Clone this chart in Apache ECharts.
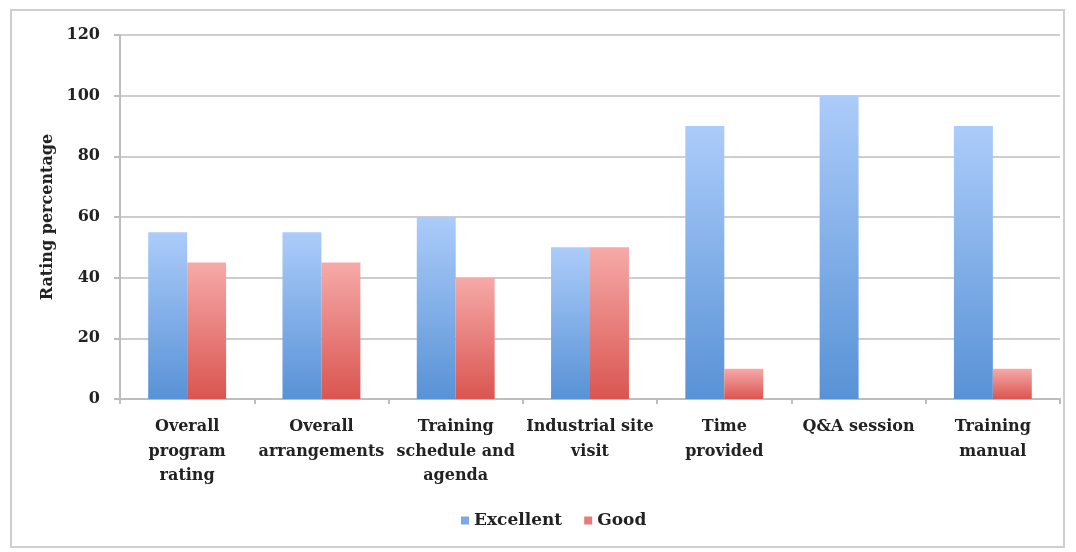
<!DOCTYPE html>
<html><head><meta charset="utf-8">
<script src="https://cdn.jsdelivr.net/npm/echarts@6/dist/echarts.min.js"></script>
<style>html,body{margin:0;padding:0;background:#fff}#c{width:1076px;height:552px}
#frame{position:absolute;left:10px;top:9px;width:1055px;height:539px;border:2px solid #cfcfcf;box-sizing:border-box;pointer-events:none}</style>
</head><body><div id="c"></div><div id="frame"></div>
<script>
const categories = ['Overall\nprogram\nrating','Overall\narrangements','Training\nschedule and\nagenda','Industrial site\nvisit','Time\nprovided','Q&A session','Training\nmanual'];
const excellent = [55,55,60,50,90,100,90];
const good = [45,45,40,50,10,0,10];
const yTicks = {min:0,max:120,interval:20};
const font = '"DejaVu Serif", serif';
const chart = echarts.init(document.getElementById('c'));
function grad(top,bottom){return new echarts.graphic.LinearGradient(0,0,0,1,[{offset:0,color:top},{offset:1,color:bottom}]);}
chart.setOption({
  animation:false,
  grid:{left:120,right:16,top:35,bottom:153},
  legend:{bottom:18,left:456,itemWidth:8,itemHeight:8,itemGap:22,icon:'rect',
    textStyle:{fontFamily:font,fontWeight:'bold',fontSize:17,color:'#222'},
    data:[{name:'Excellent',itemStyle:{color:'#7aaae6'}},{name:'Good',itemStyle:{color:'#e77b78'}}]},
  xAxis:{type:'category',data:categories,
    axisLine:{lineStyle:{color:'#bdbdbd',width:2}},
    axisTick:{show:true,length:5,lineStyle:{color:'#bdbdbd',width:2}},
    axisLabel:{fontFamily:font,fontWeight:'bold',fontSize:16,color:'#222',lineHeight:24.5,margin:16,interval:0}},
  yAxis:{type:'value',min:yTicks.min,max:yTicks.max,interval:yTicks.interval,
    name:'Rating percentage',nameLocation:'middle',nameGap:55,nameRotate:90,
    nameTextStyle:{fontFamily:font,fontWeight:'bold',fontSize:16,color:'#222'},
    axisLine:{show:true,lineStyle:{color:'#bdbdbd',width:2}},
    axisTick:{show:true,length:6,lineStyle:{color:'#bdbdbd',width:2}},
    splitLine:{lineStyle:{color:'#cdcdcd',width:2}},
    axisLabel:{fontFamily:font,fontWeight:'bold',fontSize:16,color:'#222',margin:20}},
  series:[
    {name:'Excellent',type:'bar',data:excellent,barGap:'0%',barCategoryGap:'42%',
      itemStyle:{color:grad('#acccfa','#5892d6')}},
    {name:'Good',type:'bar',data:good,
      itemStyle:{color:grad('#f6aaa8','#da5551')}}
  ]
});
</script></body></html>
